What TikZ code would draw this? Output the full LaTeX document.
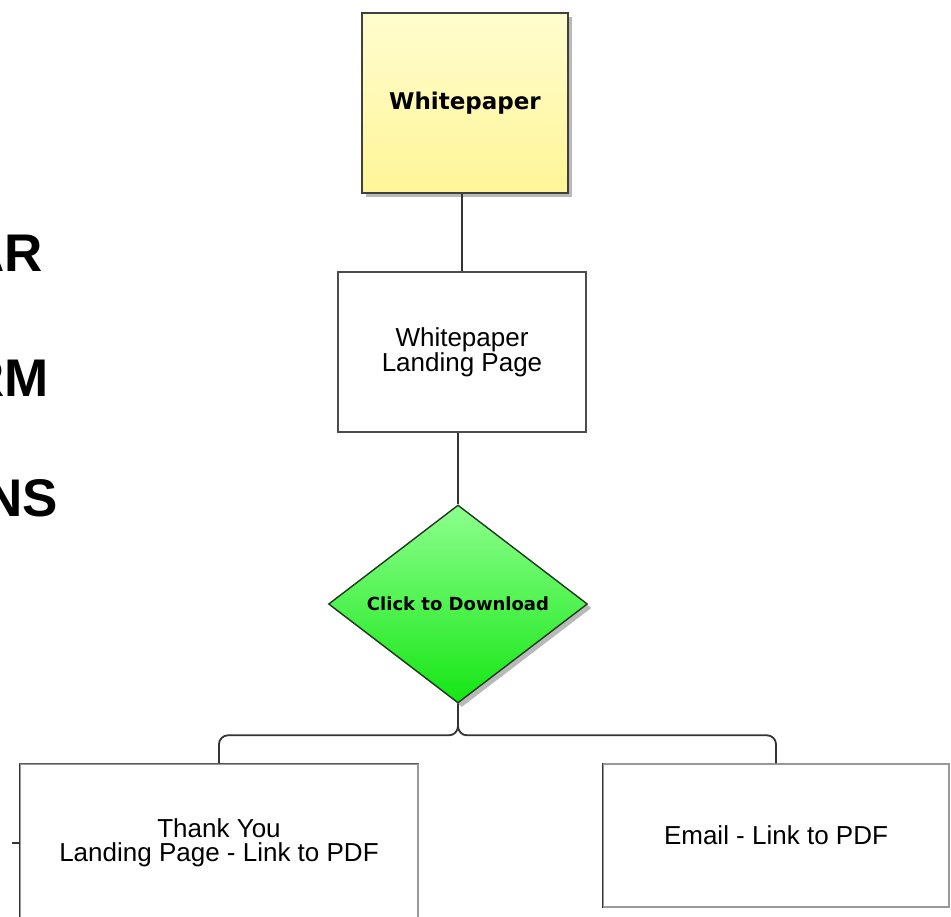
\documentclass[tikz,border=0pt]{standalone}
\usepackage{fontspec}
\setmainfont{Liberation Sans}
\newfontfamily\widefont{DejaVu Sans}
\usetikzlibrary{shapes.geometric,shadows}

\definecolor{paperTop}{HTML}{FFFDCF}
\definecolor{paperBot}{HTML}{FFF597}
\definecolor{goTop}{HTML}{8EFF8E}
\definecolor{goBot}{HTML}{14E614}
\definecolor{goEdge}{HTML}{1E3A1E}

\tikzset{
  pagebox/.style={draw=black!70, line width=1.4pt, fill=white, align=center,
    inner sep=0pt, font=\fontsize{26}{25}\selectfont},
  endbox/.style={draw=black!40, line width=1.4pt, fill=white, align=center,
    inner sep=0pt, font=\fontsize{26}{23.5}\selectfont},
  softshadow/.style={drop shadow={shadow xshift=4pt, shadow yshift=-4pt,
    fill=black!55, opacity=.5}},
  conn/.style={draw=black!80, line width=1.8pt, rounded corners=9pt},
  sidetext/.style={anchor=base east, inner sep=0pt,
    font=\bfseries\fontsize{53}{53}\selectfont}
}

\begin{document}
\begin{tikzpicture}[x=1pt, y=-1pt]
\useasboundingbox (0,0) rectangle (951,917);
\clip (0,0) rectangle (951,917);

% word endings at the left margin
\node[sidetext] (w1) at (43,272) {AR};
\node[sidetext] (w2) at (49,396) {RM};
\node[sidetext] (w3) at (58,516) {NS};

% whitepaper asset
\node[pagebox, draw=black!75, minimum width=206pt, minimum height=180pt,
  top color=paperTop, bottom color=paperBot, softshadow] (wp) at (465,103)
  {\widefont\bfseries\fontsize{23}{23}\selectfont Whitepaper};

% landing page
\node[pagebox, minimum width=248pt, minimum height=160pt] (lp) at (462,352)
  {Whitepaper\\Landing Page};

% download decision
\node[diamond, draw=goEdge, line width=1.4pt, minimum width=259pt,
  minimum height=198pt, aspect=1.31, inner sep=0pt,
  top color=goTop, bottom color=goBot, softshadow] (dl) at (458,604)
  {\widefont\bfseries\fontsize{18}{18}\selectfont Click to Download};

% results
\node[endbox, minimum width=398pt, minimum height=158pt] (ty) at (219,843)
  {Thank You\\Landing Page - Link to PDF};
\node[endbox, minimum width=346pt, minimum height=143pt] (em) at (776,835.5)
  {Email - Link to PDF};
\draw[black!80, line width=1.6pt] (ty.north west) -- (ty.south west);
\draw[black!65, line width=1.6pt] (ty.north west) -- (ty.north east);
\draw[black!80, line width=1.6pt] (em.north west) -- (em.south west);

% connectors
\coordinate (stub) at (12,843);
\draw[conn] (lp.north |- wp.south) -- (lp.north);
\draw[conn] (dl.north |- lp.south) -- (dl.north);
\draw[conn] (dl.south) |- ([yshift=28pt]ty.north) -- (ty.north);
\draw[conn] (dl.south) |- ([yshift=28pt]em.north) -- (em.north);
\draw[conn] (stub) -- (stub -| ty.west);
\end{tikzpicture}
\end{document}
